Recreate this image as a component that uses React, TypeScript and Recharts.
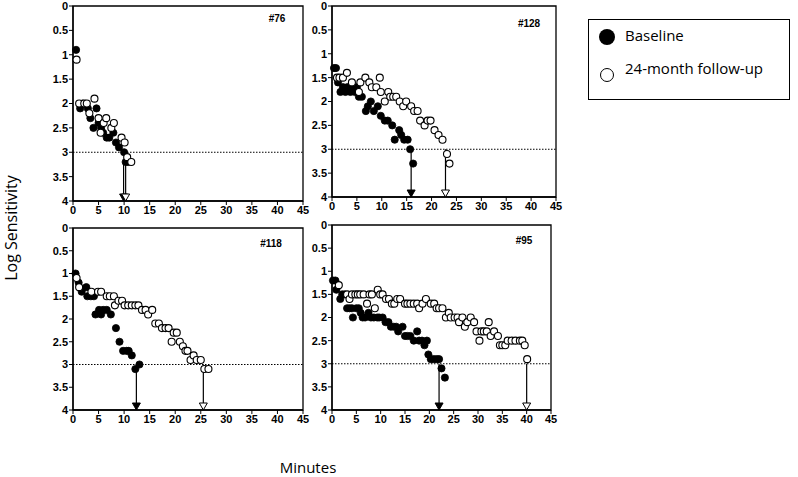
import React from 'react';
import { ScatterChart, Scatter, XAxis, YAxis, ReferenceLine, ReferenceArea } from 'recharts';

// [minutes, log sensitivity]
const baseline76 = [
  [0.6, 0.9], [1.4, 2.1], [1.9, 2.0], [2.9, 2.1], [3.4, 2.3], [4.0, 2.5], [4.6, 2.1], [5.0, 2.4],
  [5.5, 2.5], [5.9, 2.6], [6.6, 2.7], [7.1, 2.7], [7.9, 2.6], [8.4, 2.8], [9.0, 2.9], [10.0, 3.0],
  [10.3, 3.2], [10.8, 3.2],
];
const followUp76 = [
  [0.7, 1.1], [1.2, 2.0], [2.2, 2.0], [2.7, 2.0], [3.2, 2.2], [4.2, 1.9], [5.0, 2.3], [5.4, 2.6],
  [6.0, 2.4], [6.5, 2.3], [7.5, 2.5], [8.0, 2.4], [9.5, 2.7], [10.1, 2.8], [10.6, 3.1], [11.4, 3.2],
];
const baseline128 = [
  [0.4, 1.3], [0.8, 1.3], [1.2, 1.6], [1.7, 1.8], [2.2, 1.7], [2.7, 1.8], [3.1, 1.7], [3.7, 1.8],
  [4.2, 1.7], [4.6, 1.8], [5.0, 1.7], [5.4, 1.9], [6.0, 1.9], [6.8, 2.2], [7.2, 2.1], [7.8, 2.0],
  [8.4, 2.2], [9.2, 2.1], [9.8, 2.3], [10.6, 2.4], [11.2, 2.4], [12.1, 2.5], [12.6, 2.8], [13.5, 2.6],
  [13.9, 2.7], [14.5, 2.8], [15.2, 2.8], [15.7, 3.0], [16.3, 3.3],
];
const followUp128 = [
  [1.0, 1.5], [1.5, 1.5], [2.2, 1.5], [3.0, 1.4], [4.0, 1.6], [5.4, 1.8], [5.7, 1.6], [6.7, 1.5],
  [7.5, 1.6], [8.0, 1.7], [8.9, 1.7], [9.6, 1.5], [9.8, 1.8], [10.6, 2.0], [11.3, 1.8], [11.7, 1.9],
  [12.3, 1.9], [12.9, 1.9], [13.6, 2.0], [14.3, 2.1], [14.9, 2.0], [15.9, 2.1], [16.5, 2.2], [17.2, 2.2],
  [17.7, 2.4], [18.6, 2.5], [19.2, 2.4], [19.8, 2.4], [20.6, 2.6], [21.4, 2.7], [22.2, 2.8], [23.1, 3.1],
  [23.6, 3.3],
];
const baseline118 = [
  [0.5, 1.0], [1.1, 1.2], [1.7, 1.4], [2.6, 1.3], [2.8, 1.5], [3.5, 1.5], [4.1, 1.5], [4.4, 1.9],
  [5.1, 1.8], [5.5, 1.9], [5.9, 1.8], [6.6, 1.8], [7.4, 1.9], [8.4, 2.2], [9.1, 2.5], [9.8, 2.7],
  [10.5, 2.7], [10.9, 2.7], [11.5, 2.8], [12.2, 3.1], [13.0, 3.0],
];
const followUp118 = [
  [0.7, 1.1], [1.2, 1.3], [3.6, 1.4], [4.9, 1.4], [5.5, 1.4], [6.6, 1.5], [7.2, 1.5], [8.0, 1.5],
  [8.2, 1.7], [8.9, 1.6], [9.6, 1.6], [10.1, 1.7], [10.8, 1.7], [11.5, 1.7], [12.2, 1.7], [12.8, 1.7],
  [13.5, 1.8], [14.2, 1.8], [14.7, 1.9], [15.5, 1.8], [16.1, 2.1], [16.8, 2.1], [17.4, 2.2], [18.1, 2.2],
  [18.7, 2.2], [19.3, 2.5], [19.7, 2.3], [20.3, 2.3], [20.9, 2.5], [21.5, 2.6], [22.0, 2.7], [22.4, 2.7],
  [23.0, 2.9], [23.6, 2.8], [24.2, 2.9], [25.0, 2.9], [25.7, 3.1], [26.5, 3.1],
];
const baseline95 = [
  [0.2, 1.2], [0.7, 1.2], [0.9, 1.4], [1.7, 1.6], [2.1, 1.5], [2.6, 1.5], [3.1, 1.8], [3.6, 1.8],
  [4.1, 1.8], [4.3, 2.0], [5.0, 1.8], [5.5, 1.8], [5.9, 1.9], [6.3, 2.0], [6.8, 2.0], [7.5, 1.9],
  [8.0, 2.0], [8.6, 2.0], [9.3, 2.0], [9.7, 2.0], [10.4, 2.0], [11.0, 2.1], [11.6, 2.1], [12.1, 2.2],
  [12.7, 2.2], [13.2, 2.2], [13.6, 2.3], [14.5, 2.2], [15.0, 2.4], [15.5, 2.4], [16.1, 2.4], [16.8, 2.5],
  [17.5, 2.3], [17.9, 2.5], [18.5, 2.5], [19.0, 2.6], [19.5, 2.5], [19.8, 2.8], [20.3, 2.9], [20.9, 2.9],
  [21.5, 2.9], [22.0, 2.9], [22.5, 3.1], [23.2, 3.3],
];
const followUp95 = [
  [1.4, 1.3], [3.1, 1.5], [3.6, 1.6], [4.1, 1.5], [4.8, 1.5], [5.3, 1.5], [5.8, 1.5], [6.5, 1.5],
  [7.2, 1.7], [7.7, 1.5], [8.2, 1.5], [8.8, 1.8], [9.4, 1.4], [9.9, 1.5], [10.4, 1.5], [11.1, 1.6],
  [11.7, 1.6], [12.3, 1.7], [12.8, 1.7], [13.4, 1.6], [14.0, 1.6], [15.0, 1.7], [15.5, 1.7], [16.1, 1.7],
  [16.8, 1.7], [17.5, 1.7], [17.9, 1.8], [18.6, 1.7], [19.3, 1.6], [20.3, 1.7], [21.0, 1.7], [21.5, 1.8],
  [22.0, 1.8], [22.7, 1.8], [23.4, 2.0], [24.0, 1.9], [24.4, 2.0], [25.2, 2.0], [25.8, 2.0], [26.1, 2.1],
  [26.8, 2.0], [27.3, 2.2], [27.8, 2.1], [28.5, 2.0], [29.2, 2.1], [29.7, 2.3], [30.3, 2.5], [30.7, 2.3],
  [31.2, 2.3], [31.8, 2.3], [32.2, 2.1], [32.6, 2.4], [33.3, 2.3], [34.1, 2.4], [34.5, 2.6], [35.0, 2.6],
  [35.6, 2.6], [36.1, 2.5], [36.9, 2.5], [37.7, 2.5], [38.6, 2.5], [39.1, 2.5], [39.6, 2.6], [40.1, 2.9],
];

// end-point arrows: [minutes, start of arrow, filled?]
const arrows76: [number, number, boolean][] = [[9.9, 3.2, true], [10.3, 3.2, false]];
const arrows128: [number, number, boolean][] = [[15.9, 3.0, true], [22.8, 3.0, false]];
const arrows118: [number, number, boolean][] = [[12.4, 3.0, true], [25.5, 3.0, false]];
const arrows95: [number, number, boolean][] = [[22.0, 3.0, true], [40.0, 3.0, false]];

const xTicks = [0, 5, 10, 15, 20, 25, 30, 35, 40, 45];
const yTicks = [0, 0.5, 1, 1.5, 2, 2.5, 3, 3.5, 4];
const cutoff = 3;

const toPts = (a: number[][]) => a.map(([x, y]) => ({ x, y }));

const tickStyle = { fill: '#000', fontSize: 11, fontWeight: 'bold', fontFamily: 'Liberation Sans, Arial, sans-serif' };

const Filled = (p: any) => <circle cx={p.cx} cy={p.cy} r={3.6} fill="#000" stroke="#000" strokeWidth={0.8} />;
const Open = (p: any) => <circle cx={p.cx} cy={p.cy} r={3.5} fill="#fff" stroke="#000" strokeWidth={1.1} />;
const HeadFilled = (p: any) => (
  <polygon points={`${p.cx},${p.cy} ${p.cx - 4},${p.cy - 7} ${p.cx + 4},${p.cy - 7}`} fill="#000" stroke="#000" />
);
const HeadOpen = (p: any) => (
  <polygon points={`${p.cx},${p.cy} ${p.cx - 4},${p.cy - 7} ${p.cx + 4},${p.cy - 7}`} fill="#fff" stroke="#000" />
);

interface PanelProps {
  left: number;
  top: number;
  width: number;
  height: number;
  right: number;
  xHeight: number;
  baseline: number[][];
  followUp: number[][];
  arrows: [number, number, boolean][];
}

const Panel: React.FC<PanelProps> = ({ left, top, width, height, right, xHeight, baseline, followUp, arrows }) => (
  <div style={{ position: 'absolute', left, top }}>
    <ScatterChart width={width} height={height} margin={{ top: 6, right, bottom: 0, left: 0 }}>
      <XAxis
        type="number"
        dataKey="x"
        domain={[0, 45]}
        ticks={xTicks}
        interval={0}
        height={xHeight}
        tickSize={4}
        tickMargin={1}
        tick={tickStyle}
        axisLine={{ stroke: '#000', strokeWidth: 1.3 }}
        tickLine={{ stroke: '#000' }}
      />
      <YAxis
        type="number"
        dataKey="y"
        domain={[0, 4]}
        reversed
        ticks={yTicks}
        interval={0}
        width={73}
        tickSize={4}
        tickMargin={1}
        tick={tickStyle}
        axisLine={{ stroke: '#000', strokeWidth: 1.3 }}
        tickLine={{ stroke: '#000' }}
      />
      <ReferenceArea x1={0} x2={45} y1={0} y2={4} fill="none" stroke="#000" strokeWidth={1.3} />
      <ReferenceLine y={cutoff} stroke="#000" strokeDasharray="1.5 1.5" strokeWidth={1} />
      {arrows.map(([x, from], i) => (
        <ReferenceLine key={i} segment={[{ x, y: from }, { x, y: 4 }]} stroke="#000" strokeWidth={1.2} />
      ))}
      <Scatter data={toPts(baseline)} shape={Filled} isAnimationActive={false} />
      <Scatter data={toPts(followUp)} shape={Open} isAnimationActive={false} />
      <Scatter data={arrows.filter(a => a[2]).map(a => ({ x: a[0], y: 4 }))} shape={HeadFilled} isAnimationActive={false} />
      <Scatter data={arrows.filter(a => !a[2]).map(a => ({ x: a[0], y: 4 }))} shape={HeadOpen} isAnimationActive={false} />
    </ScatterChart>
  </div>
);

const labelStyle: React.CSSProperties = {
  position: 'absolute',
  fontFamily: 'Liberation Sans, Arial, sans-serif',
  fontWeight: 'bold',
  fontSize: 10,
  transform: 'translate(-50%, -50%)',
  whiteSpace: 'nowrap',
};

export default function App() {
  return (
    <div style={{ position: 'relative', width: 798, height: 477, background: '#fff', overflow: 'hidden' }}>
      <style>{`body{margin:0}`}</style>
      <Panel left={0} top={0} width={310} height={220} right={7} xHeight={19} baseline={baseline76} followUp={followUp76} arrows={arrows76} />
      <Panel left={259} top={0} width={305} height={220} right={8} xHeight={23} baseline={baseline128} followUp={followUp128} arrows={arrows128} />
      <Panel left={0} top={222} width={310} height={210} right={7} xHeight={22} baseline={baseline118} followUp={followUp118} arrows={arrows118} />
      <Panel left={259} top={219} width={300} height={213} right={8} xHeight={22} baseline={baseline95} followUp={followUp95} arrows={arrows95} />

      <div style={{ ...labelStyle, left: 277, top: 18 }}>#76</div>
      <div style={{ ...labelStyle, left: 529, top: 23 }}>#128</div>
      <div style={{ ...labelStyle, left: 271, top: 243 }}>#118</div>
      <div style={{ ...labelStyle, left: 524, top: 240 }}>#95</div>

      <div
        style={{
          position: 'absolute',
          left: 11,
          top: 228,
          transform: 'translate(-50%, -50%) rotate(-90deg)',
          fontFamily: 'Open Sans, sans-serif',
          fontSize: 16,
          lineHeight: '18px',
          whiteSpace: 'nowrap',
        }}
      >
        Log Sensitivity
      </div>
      <div
        style={{
          position: 'absolute',
          left: 308,
          top: 467,
          transform: 'translate(-50%, -50%)',
          fontFamily: 'Open Sans, sans-serif',
          fontSize: 15,
        }}
      >
        Minutes
      </div>

      <div
        style={{
          position: 'absolute',
          left: 588,
          top: 19,
          width: 202,
          height: 81,
          border: '1.5px solid #000',
          boxSizing: 'border-box',
          fontFamily: 'Open Sans, sans-serif',
          fontSize: 15,
        }}
      >
        <div style={{ position: 'absolute', left: 10, top: 9, width: 16, height: 16, borderRadius: '50%', background: '#000' }} />
        <div style={{ position: 'absolute', left: 36, top: 5 }}>Baseline</div>
        <div style={{ position: 'absolute', left: 11, top: 48, width: 12, height: 12, borderRadius: '50%', border: '1.3px solid #000' }} />
        <div style={{ position: 'absolute', left: 36, top: 38 }}>24-month follow-up</div>
      </div>
    </div>
  );
}
